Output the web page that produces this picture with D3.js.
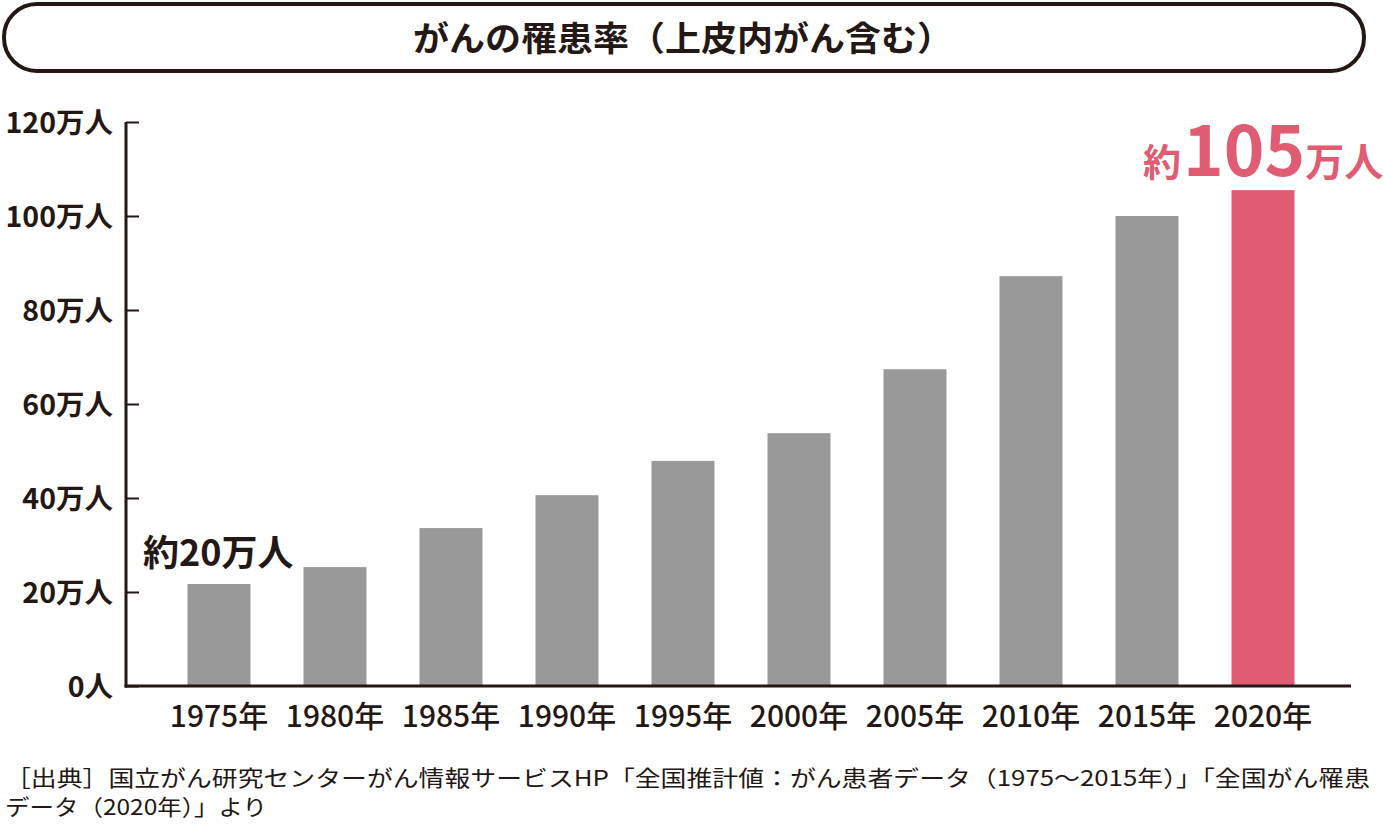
<!DOCTYPE html>
<html><head><meta charset="utf-8">
<script src="https://cdn.jsdelivr.net/npm/d3@7"></script>
<style>body{margin:0;background:#fff}svg{display:block}</style>
</head><body>
<svg id="c" width="1384" height="825"></svg>
<script>
const categories = ["1975年","1980年","1985年","1990年","1995年","2000年","2005年","2010年","2015年","2020年"];
const values = [21.7, 25.3, 33.6, 40.6, 47.9, 53.8, 67.4, 87.2, 100.0, 105.5];
const yTicks = [0, 20, 40, 60, 80, 100, 120];
const yTickLabels = ["0人","20万人","40万人","60万人","80万人","100万人","120万人"];
const title = "がんの罹患率（上皮内がん含む）";
const sourceLines = ["［出典］国立がん研究センターがん情報サービスHP「全国推計値：がん患者データ（1975〜2015年）」「全国がん罹患","データ（2020年）」より"];

const font = "'Noto Sans CJK JP', 'Noto Sans', sans-serif";
const ink = "#231815";
const gray = "#999999";
const pink = "#e05c73";

const svg = d3.select("#c");

// title box
svg.append("rect").attr("x",4).attr("y",4).attr("width",1360).attr("height",67)
  .attr("rx",33).attr("fill","#fff").attr("stroke",ink).attr("stroke-width",4);
svg.append("text").attr("x",683).attr("y",51).attr("text-anchor","middle")
  .attr("font-family",font).attr("font-weight",700).attr("font-size",34)
  .attr("fill",ink).attr("textLength",540).attr("lengthAdjust","spacingAndGlyphs").text(title);

const x = d3.scaleBand().domain(categories).range([161,1321]).paddingInner(0.457).paddingOuter(0.2285);
const y = d3.scaleLinear().domain([0,120]).range([686,122]);

// bars
svg.append("g").selectAll("rect").data(values).join("rect")
  .attr("x",(d,i)=>x(categories[i])).attr("width",x.bandwidth())
  .attr("y",d=>y(d)).attr("height",d=>y(0)-y(d))
  .attr("fill",(d,i)=>i===categories.length-1?pink:gray);

// y axis
const yAxis = d3.axisRight(y).tickValues(yTicks).tickSize(13).tickFormat("");
const gy = svg.append("g").attr("transform","translate(126,0)").call(yAxis);
gy.select(".domain").remove();
gy.selectAll(".tick line").attr("stroke",ink).attr("stroke-width",2);
svg.append("line").attr("x1",126).attr("x2",126).attr("y1",y(120)).attr("y2",y(0)+1.5)
  .attr("stroke",ink).attr("stroke-width",3);
svg.append("g").selectAll("text").data(yTicks).join("text")
  .attr("x",113).attr("y",d=>y(d)+11).attr("text-anchor","end")
  .attr("font-family",font).attr("font-weight",700).attr("font-size",28.5).attr("fill",ink)
  .text((d,i)=>yTickLabels[i]);

// x axis
svg.append("line").attr("x1",124.5).attr("x2",1351).attr("y1",y(0)).attr("y2",y(0))
  .attr("stroke",ink).attr("stroke-width",3);
const xAxis = d3.axisBottom(x).tickSize(0).tickPadding(0);
const gx = svg.append("g").attr("transform",`translate(0,${y(0)})`).call(xAxis);
gx.select(".domain").remove();
gx.selectAll(".tick text").attr("y",41).attr("dy",0)
  .attr("font-family",font).attr("font-weight",500).attr("font-size",30).attr("fill",ink);

// annotations
svg.append("text").attr("x",143).attr("y",566).attr("font-family",font).attr("font-weight",700)
  .attr("font-size",36).attr("fill",ink).text("約20万人");
const a = svg.append("text").attr("x",1143).attr("y",176).attr("font-family",font).attr("font-weight",700).attr("fill",pink);
a.append("tspan").attr("font-size",38).text("約");
a.append("tspan").attr("font-size",69).attr("dx",2).text("105");
a.append("tspan").attr("font-size",39).text("万人");

// source
svg.append("text").attr("x",5).attr("y",786).attr("font-family",font).attr("font-size",22)
  .attr("fill",ink).attr("textLength",1365).attr("lengthAdjust","spacingAndGlyphs").text(sourceLines[0]);
svg.append("text").attr("x",5).attr("y",815).attr("font-family",font).attr("font-size",22)
  .attr("fill",ink).attr("textLength",262).attr("lengthAdjust","spacingAndGlyphs").text(sourceLines[1]);
</script>
</body></html>
